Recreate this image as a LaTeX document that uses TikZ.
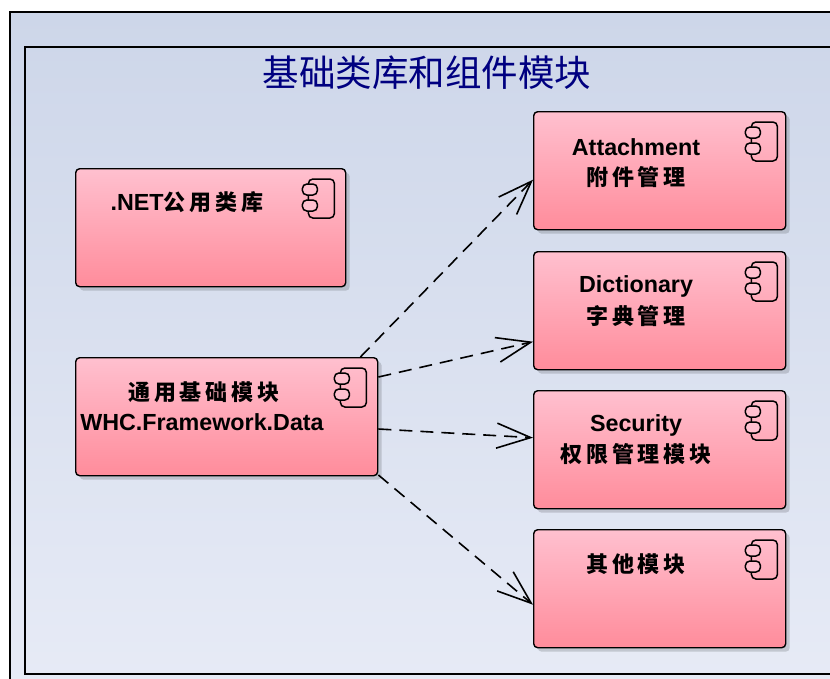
\documentclass[tikz,border=0pt]{standalone}
\usepackage{fontspec}
\setmainfont{Liberation Sans}
\newfontfamily\cjk{Noto Sans CJK SC}
\newfontfamily\cjkwide[LetterSpace=18]{Noto Sans CJK SC}
\usetikzlibrary{arrows.meta,shadows}
\definecolor{framecolor}{RGB}{205,214,233}
\definecolor{framebottom}{RGB}{231,235,246}
\definecolor{boxtop}{RGB}{255,192,207}
\definecolor{boxbottom}{RGB}{255,140,155}
\definecolor{titleblue}{RGB}{0,0,128}
\tikzstyle{frame} = [draw=black,line width=1.2pt]
\tikzstyle{module} = [draw=black,line width=1.4pt,rounded corners=4pt,top color=boxtop,bottom color=boxbottom,
  drop shadow={shadow xshift=4pt,shadow yshift=-4pt,fill=black,opacity=0.15}]
\tikzstyle{modulename} = [font=\bfseries\fontsize{23.3}{26}\selectfont,align=center,inner sep=0pt]
\tikzstyle{depend} = [draw,line width=1.6pt,dash pattern=on 13pt off 8pt,-{Straight Barb[length=34pt,width=25pt,line width=1.6pt]}]
\tikzstyle{pinbox} = [draw=black,line width=1.5pt,rounded corners=4.5pt]
\newcommand{\zh}[1]{{\cjkwide\bfseries\fontsize{22}{26}\selectfont #1}}

\begin{document}
\begin{tikzpicture}[x=1pt,y=-1pt]
      \useasboundingbox (0,0) rectangle (830,678);
      \clip (0,0) rectangle (830,678);
      %frames
      \path[frame,top color=framecolor,bottom color=framebottom] (10,12) rectangle (845,690);
      \draw[frame] (25,47) rectangle (845,674);
      \node[text=titleblue,font=\cjk\fontsize{36.5}{40}\selectfont,inner sep=0pt] (title) at (427,73) {基础类库和组件模块};
      %modules
      \foreach \nodename/\x/\y/\w/\ix in {
        net/75/168/270/-12,
        data/75/357/302/-12,
        attach/533/111/252/-9,
        dict/533/251/252/-9,
        secu/533/390/252/-9,
        other/533/529/252/-9}
      {
        \node[module,anchor=north west,minimum width=\w pt,minimum height=118pt,inner sep=0pt] (\nodename) at (\x,\y) {};
        %component icon
        \begin{scope}[shift={(\nodename.north east)},xshift=\ix pt]
          \draw[pinbox] (-26,11) rectangle (0,50);
          \draw[pinbox,fill=boxtop] (-32,16) rectangle (-17,27);
          \draw[pinbox,fill=boxtop] (-32,32) rectangle (-17,43);
        \end{scope}
      };
      %labels
      \node[modulename] (netlabel) at (187,202) {.NET\zh{公用类库}};
      \node[modulename] (datalabel1) at (204,392) {\zh{通用基础模块}};
      \node[modulename] (datalabel2) at (202,422) {WHC.Framework.Data};
      \node[modulename] (attachlabel1) at (636,147) {Attachment};
      \node[modulename] (attachlabel2) at (636,177) {\zh{附件管理}};
      \node[modulename] (dictlabel1) at (636,286) {Dictionary};
      \node[modulename] (dictlabel2) at (636,316) {\zh{字典管理}};
      \node[modulename] (seculabel1) at (636,425) {Security};
      \node[modulename] (seculabel2) at (636,454) {\zh{权限管理模块}};
      \node[modulename] (otherlabel) at (636,564) {\zh{其他模块}};
      %edges
      \foreach \sx/\sy/\endnode/\ey in {-18/0/attach/-9, 0/-20/dict/-31, 0/-72/secu/12, 0/-118/other/-16}
      {
        \path[depend] ([xshift=\sx pt,yshift=\sy pt]data.north east) -- ([yshift=\ey pt]\endnode.west);
      };
    \end{tikzpicture}
\end{document}
